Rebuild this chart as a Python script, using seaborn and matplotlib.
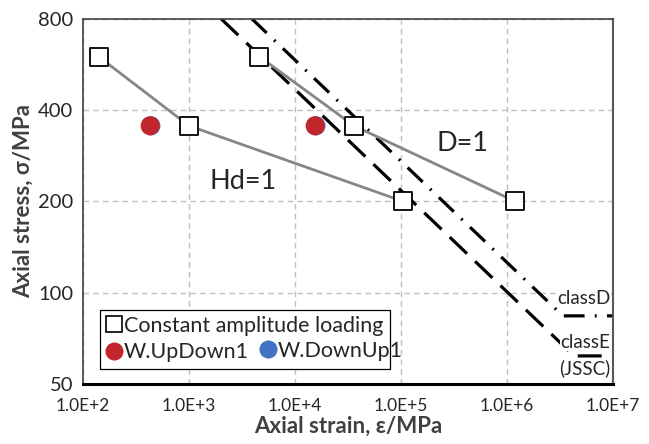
import numpy as np
import matplotlib
matplotlib.use('Agg')
import matplotlib.pyplot as plt
import seaborn as sns
from matplotlib.lines import Line2D
from matplotlib.ticker import FixedLocator, FixedFormatter, LogLocator, NullLocator, NullFormatter

# constant amplitude results (cycles, stress)
hd_n = [1.4e2, 1.0e3, 1.05e5]
hd_s = [600, 355, 200]
d_n = [4.6e3, 3.6e4, 1.2e6]
d_s = [600, 355, 200]

# variable amplitude tests
updown_n = [4.3e2, 1.55e4]
updown_s = [355, 355]
downup_n = [4.36e2, 1.575e4]
downup_s = [355, 355]

# JSSC design curves
classD_n = [3.9e3, 3.37e6, 1.0e7]
classD_s = [800, 84, 84]
classE_n = [2.0e3, 4.3e6, 1.0e7]
classE_s = [800, 62, 62]

x_ticks = [1e2, 1e3, 1e4, 1e5, 1e6, 1e7]
x_labels = ['1.0E+2', '1.0E+3', '1.0E+4', '1.0E+5', '1.0E+6', '1.0E+7']
y_ticks = [50, 100, 200, 400, 800]
y_labels = ['50', '100', '200', '400', '800']

sns.set_style('white')
plt.rcParams['font.family'] = ['Lato', 'DejaVu Sans']

fig = plt.figure(figsize=(6.49, 4.44), dpi=100)
ax = fig.add_axes([0.128, 0.1345, 0.8165, 0.8235])
ax.set_xscale('log')
ax.set_yscale('log')

red = '#C0262B'
blue = '#4472C4'
gray = '#868686'
txt = '#262626'

# design curves
sns.lineplot(x=classE_n, y=classE_s, ax=ax, color='black', lw=2.3, sort=False,
             estimator=None, zorder=2)
ax.lines[-1].set_dashes((7.5, 3.5))
sns.lineplot(x=classD_n, y=classD_s, ax=ax, color='black', lw=2.3, sort=False,
             estimator=None, zorder=2)
ax.lines[-1].set_dashes((6.5, 3.2, 0.6, 3.2))

# S-N lines of constant amplitude
for n, s in [(hd_n, hd_s), (d_n, d_s)]:
    sns.lineplot(x=n, y=s, ax=ax, color=gray, lw=2.0, sort=False, estimator=None, zorder=3)
    sns.scatterplot(x=n, y=s, ax=ax, marker='s', s=170, facecolor='white',
                    edgecolor='black', linewidth=1.3, zorder=5)

sns.scatterplot(x=downup_n, y=downup_s, ax=ax, color=blue, s=190, edgecolor='none', zorder=4)
sns.scatterplot(x=updown_n, y=updown_s, ax=ax, color=red, s=190, edgecolor='none', zorder=4)

ax.set_xlim(1e2, 1e7)
ax.set_ylim(50, 800)
ax.xaxis.set_major_locator(FixedLocator(x_ticks))
ax.xaxis.set_major_formatter(FixedFormatter(x_labels))
ax.xaxis.set_minor_locator(LogLocator(base=10, subs=np.arange(2, 10)))
ax.xaxis.set_minor_formatter(NullFormatter())
ax.yaxis.set_major_locator(FixedLocator(y_ticks))
ax.yaxis.set_major_formatter(FixedFormatter(y_labels))
ax.yaxis.set_minor_locator(NullLocator())

ax.grid(True, which='major', color='#BFBFBF', ls=(0, (4, 3)), lw=1.0)
ax.tick_params(axis='x', which='major', direction='inout', length=8, width=1.2,
               labelsize=12.5, pad=6, color='black', labelcolor=txt)
ax.tick_params(axis='x', which='minor', direction='in', length=4, width=1, color='#404040')
ax.tick_params(axis='y', which='major', direction='out', length=5, width=1,
               labelsize=14.5, pad=2, color='#404040', labelcolor=txt)
for side in ['left', 'top']:
    ax.spines[side].set_color('#404040')
    ax.spines[side].set_linewidth(1.2)
ax.spines['right'].set_color('#595959')
ax.spines['right'].set_linewidth(1.5)
ax.spines['bottom'].set_color('black')
ax.spines['bottom'].set_linewidth(2.2)

ax.set_xlabel('Axial strain, ε/MPa', fontsize=16, fontweight='bold', color='#404040', labelpad=1)
ax.set_ylabel('Axial stress, σ/MPa', fontsize=16, fontweight='bold', color='#404040', labelpad=3)

ax.text(3.2e3, 233, 'Hd=1', fontsize=19.5, color=txt, ha='center', va='center')
ax.text(3.8e5, 311, 'D=1', fontsize=19.5, color=txt, ha='center', va='center')
box = dict(facecolor='white', edgecolor='none', pad=0.5)
ax.text(9.5e6, 96, 'classD', fontsize=13.5, color=txt, ha='right', va='center', bbox=box, zorder=6)
ax.text(9.5e6, 68.8, 'classE', fontsize=13.5, color=txt, ha='right', va='center', bbox=box, zorder=6)
ax.text(9.5e6, 56.6, '(JSSC)', fontsize=13.5, color=txt, ha='right', va='center', bbox=box, zorder=6)

h_ca = Line2D([], [], ls='none', marker='s', ms=11, mfc='white', mec='black', mew=1.2)
h_up = Line2D([], [], ls='none', marker='o', ms=13, mfc=red, mec='none')
h_dn = Line2D([], [], ls='none', marker='o', ms=13, mfc=blue, mec='none')
leg1 = ax.legend([h_ca, h_up], ['Constant amplitude loading', 'W.UpDown1'],
                 loc='lower left', bbox_to_anchor=(0.032, 0.042), fontsize=15.5,
                 handlelength=0.7, handletextpad=0.1, borderpad=0.3, labelspacing=0.3,
                 borderaxespad=0, fancybox=False, edgecolor='black', framealpha=1,
                 labelcolor=txt)
leg1.get_frame().set_linewidth(0.9)
leg1.set_zorder(7)
ax.add_artist(leg1)
leg2 = ax.legend([h_dn], ['W.DownUp1'], loc='lower left', bbox_to_anchor=(0.325, 0.05),
                 fontsize=15.5, handlelength=0.7, handletextpad=0.1, borderpad=0.25,
                 borderaxespad=0, frameon=False, labelcolor=txt)
leg2.set_zorder(8)

fig.savefig('out.png', dpi=100)
